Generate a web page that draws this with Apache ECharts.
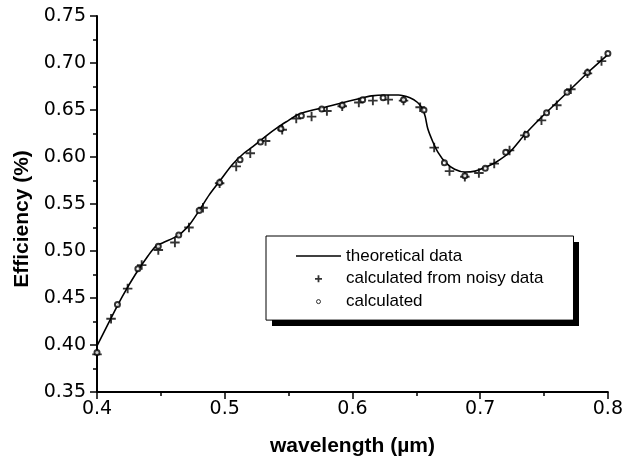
<!DOCTYPE html>
<html>
<head>
<meta charset="utf-8">
<script src="https://cdn.jsdelivr.net/npm/echarts@6/dist/echarts.min.js"></script>
<style>
  html, body { margin: 0; padding: 0; background: #fff; }
  #chart { width: 626px; height: 464px; }
</style>
</head>
<body>
<div id="chart"></div>
<script>
// theoretical curve (wavelength um, efficiency)
const theoryX = [0.400, 0.410, 0.420, 0.430, 0.440, 0.446, 0.452, 0.460, 0.466, 0.473, 0.480, 0.488, 0.497, 0.506, 0.515, 0.522, 0.532, 0.542, 0.550, 0.557, 0.566, 0.576, 0.590, 0.605, 0.615, 0.625, 0.636, 0.645, 0.651, 0.655, 0.657, 0.659, 0.663, 0.667, 0.673, 0.680, 0.688, 0.696, 0.704, 0.713, 0.723, 0.735, 0.747, 0.760, 0.773, 0.786, 0.800];
const theoryY = [0.399, 0.426, 0.452, 0.475, 0.495, 0.505, 0.509, 0.514, 0.519, 0.529, 0.543, 0.560, 0.576, 0.592, 0.604, 0.611, 0.622, 0.632, 0.639, 0.645, 0.649, 0.652, 0.657, 0.662, 0.665, 0.666, 0.666, 0.663, 0.658, 0.651, 0.643, 0.630, 0.616, 0.605, 0.594, 0.587, 0.584, 0.585, 0.589, 0.595, 0.605, 0.624, 0.641, 0.658, 0.675, 0.692, 0.709];

// calculated from noisy data (+)
const noisyX = [0.400, 0.411, 0.424, 0.435, 0.448, 0.461, 0.472, 0.483, 0.496, 0.509, 0.520, 0.532, 0.545, 0.556, 0.568, 0.580, 0.592, 0.605, 0.616, 0.628, 0.640, 0.653, 0.664, 0.676, 0.688, 0.699, 0.711, 0.723, 0.735, 0.748, 0.760, 0.771, 0.784, 0.795];
const noisyY = [0.390, 0.428, 0.460, 0.485, 0.501, 0.509, 0.525, 0.546, 0.572, 0.590, 0.604, 0.617, 0.629, 0.641, 0.643, 0.649, 0.654, 0.658, 0.660, 0.661, 0.660, 0.653, 0.610, 0.585, 0.579, 0.583, 0.593, 0.607, 0.623, 0.639, 0.655, 0.672, 0.689, 0.702];

// calculated (o)
const calcX = [0.400, 0.416, 0.432, 0.448, 0.464, 0.480, 0.496, 0.512, 0.528, 0.544, 0.560, 0.576, 0.592, 0.608, 0.624, 0.640, 0.656, 0.672, 0.688, 0.704, 0.720, 0.736, 0.752, 0.768, 0.784, 0.800];
const calcY = [0.392, 0.443, 0.481, 0.505, 0.517, 0.543, 0.573, 0.597, 0.616, 0.630, 0.644, 0.651, 0.655, 0.661, 0.663, 0.661, 0.650, 0.594, 0.580, 0.588, 0.605, 0.624, 0.647, 0.669, 0.690, 0.710];

const seriesNames = ["theoretical data", "calculated from noisy data", "calculated"];

const font = "'Liberation Sans', Arial, Helvetica, sans-serif";
const tickFont = "'DejaVu Sans', sans-serif";
const plusPath = "path://M4,0H6V4H10V6H6V10H4V6H0V4H4Z";
// legend icons padded with invisible move-to points so they stay small
const lineLegend = "path://M0,0H45V1.6H0Z";
const plusLegend = "path://M0,0M14,14M6.1,3.5H7.9V6.1H10.5V7.9H7.9V10.5H6.1V7.9H3.5V6.1H6.1Z";
const circleLegend = "path://M0,0M14,14M9,7A2,2 0 1 1 5,7A2,2 0 1 1 9,7Z";

function zip(xs, ys) {
  return xs.map((x, i) => [x, ys[i]]);
}

const chart = echarts.init(document.getElementById("chart"));

chart.setOption({
  animation: false,
  backgroundColor: "#fff",
  grid: { left: 97, right: 15, top: 16, bottom: 72 },
  // black drop shadow behind the legend box
  graphic: [{
    type: "rect",
    left: 272,
    top: 242,
    shape: { width: 307, height: 84 },
    style: { fill: "#000" },
    z: 1,
    silent: true
  }],
  legend: {
    orient: "vertical",
    left: 266,
    top: 236,
    padding: [11.5, 30, 10, 30],
    itemWidth: 45,
    itemHeight: 14,
    itemGap: 5.8,
    backgroundColor: "#fff",
    borderColor: "#000",
    borderWidth: 1,
    borderRadius: 0,
    selectedMode: false,
    z: 10,
    textStyle: { fontFamily: font, fontSize: 17, color: "#000", lineHeight: 17 },
    data: [
      { name: seriesNames[0], icon: lineLegend, itemStyle: { color: "#000", borderWidth: 0 } },
      { name: seriesNames[1], icon: plusLegend, itemStyle: { color: "#000", borderWidth: 0 } },
      { name: seriesNames[2], icon: circleLegend, itemStyle: { color: "#fff", borderColor: "#000", borderWidth: 1 } }
    ]
  },
  xAxis: {
    type: "value",
    min: 0.4,
    max: 0.8,
    interval: 0.1,
    name: "wavelength (\u00b5m)",
    nameLocation: "middle",
    nameGap: 44,
    nameTextStyle: { fontFamily: font, fontSize: 21, fontWeight: "bold", color: "#000" },
    axisLine: { lineStyle: { color: "#000", width: 2 } },
    axisTick: { length: 7, lineStyle: { color: "#000", width: 1.5 } },
    minorTick: { show: true, splitNumber: 2, length: 4, lineStyle: { color: "#000", width: 1.5 } },
    splitLine: { show: false },
    axisLabel: {
      margin: 8,
      fontFamily: tickFont,
      fontSize: 19,
      color: "#000",
      formatter: v => v.toFixed(1)
    }
  },
  yAxis: {
    type: "value",
    min: 0.35,
    max: 0.75,
    interval: 0.05,
    name: "Efficiency (%)",
    nameLocation: "middle",
    nameGap: 64,
    nameTextStyle: { fontFamily: font, fontSize: 21, fontWeight: "bold", color: "#000", padding: [0, 30, 0, 0] },
    axisLine: { show: true, lineStyle: { color: "#000", width: 2 } },
    axisTick: { show: true, length: 7, lineStyle: { color: "#000", width: 1.5 } },
    minorTick: { show: true, splitNumber: 2, length: 4, lineStyle: { color: "#000", width: 1.5 } },
    splitLine: { show: false },
    axisLabel: {
      margin: 11,
      fontFamily: tickFont,
      fontSize: 19,
      color: "#000",
      formatter: v => v.toFixed(2)
    }
  },
  series: [
    {
      name: seriesNames[0],
      type: "line",
      data: zip(theoryX, theoryY),
      smooth: 0.3,
      showSymbol: false,
      symbol: "none",
      lineStyle: { color: "#000", width: 1.6 },
      itemStyle: { color: "#000" },
      z: 2
    },
    {
      name: seriesNames[1],
      type: "scatter",
      data: zip(noisyX, noisyY),
      symbol: plusPath,
      symbolSize: 9.5,
      itemStyle: { color: "#000" },
      z: 3
    },
    {
      name: seriesNames[2],
      type: "scatter",
      data: zip(calcX, calcY),
      symbol: "emptyCircle",
      symbolSize: 5,
      itemStyle: { color: "#000", borderColor: "#000", borderWidth: 1 },
      z: 4
    }
  ]
});

window.addEventListener("resize", () => chart.resize());
</script>
</body>
</html>
